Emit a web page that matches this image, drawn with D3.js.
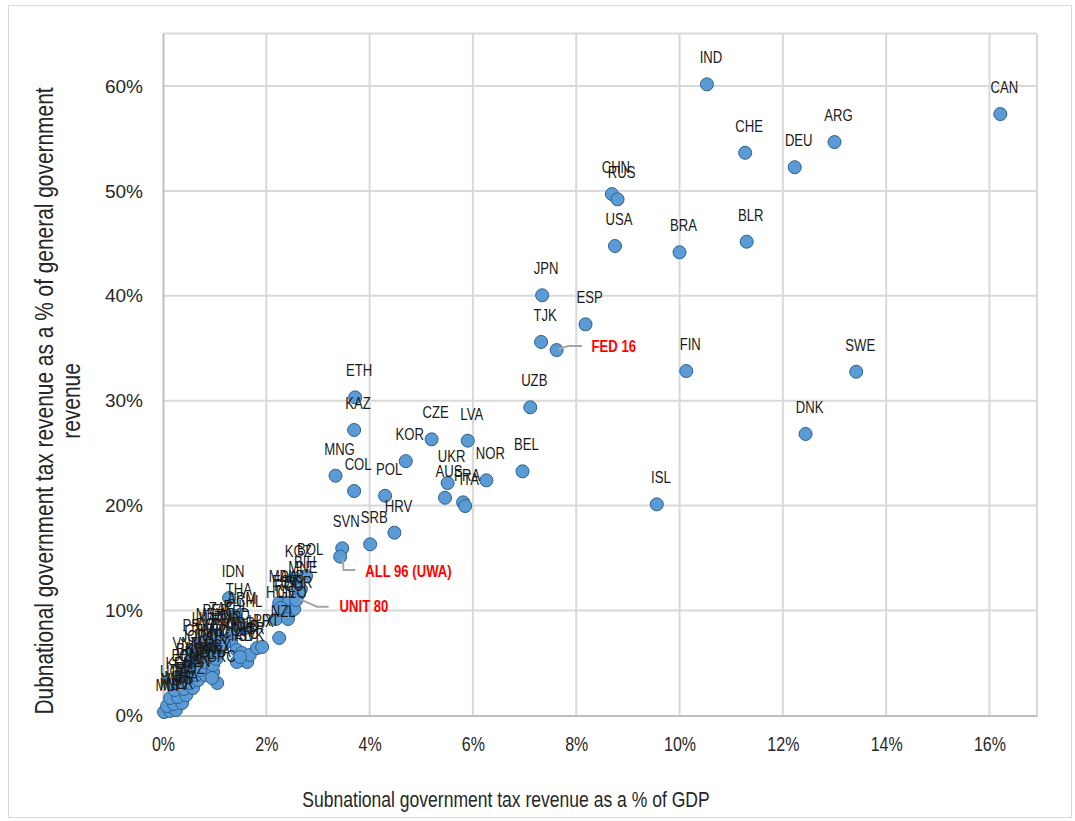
<!DOCTYPE html>
<html>
<head>
<meta charset="utf-8">
<script src="https://cdn.jsdelivr.net/npm/d3@7"></script>
<style>
  html, body { margin: 0; padding: 0; background: #ffffff; }
  svg { display: block; }
</style>
</head>
<body>
<svg id="chart" width="1075" height="821"></svg>
<script>
// ---- Data (values in percent) ----
const countryCodes = [
  "IND","CAN","CHE","ARG","DEU","CHN","RUS","USA","BRA","BLR",
  "JPN","ESP","TJK","FIN","SWE","DNK","ISL","UZB","BEL","ETH",
  "KAZ","CZE","LVA","KOR","NOR","MNG","COL","POL","UKR","AUS",
  "FRA","ITA","HRV","SRB","SVN",
  "KGZ","BOL","BIH","MNE","MDA","ALB","BGR","ROU","HUN","GEO","EST","NZL",
  "IDN","THA","CHL","MKD","GBR","NLD","LTU","SVK","ISR","LUX","PRT","IRL","CYP","GRC",
  "MLT","MDV","NER","MLI","MWI","BFA","UGA","TZA","MOZ","KEN",
  "GHA","SEN","BEN","CMR","NPL","BGD","KHM","PAK","VNM","TUN",
  "EGY","JOR","MAR","SLV","GTM","HND","NIC","PRY","DOM","CRI",
  "LKA","URY","ECU","MEX","PER","TUR","PHL","ZAF","ARM","BWA"
];
const taxGdp = [
  10.53,16.21,11.27,13.00,12.23,8.69,8.80,8.75,10.00,11.30,
  7.34,8.18,7.32,10.13,13.42,12.44,9.56,7.11,6.96,3.72,
  3.70,5.20,5.90,4.70,6.26,3.34,3.70,4.30,5.51,5.46,
  5.81,5.85,4.48,4.01,3.47,
  2.54,2.77,2.67,2.63,2.25,2.42,2.54,2.36,2.19,2.42,2.28,2.25,
  1.28,1.39,1.59,1.32,1.43,1.53,1.55,1.63,1.68,1.82,1.92,1.43,1.49,1.05,
  0.02,0.14,0.25,0.08,0.21,0.37,0.14,0.29,0.45,0.23,
  0.41,0.58,0.35,0.52,0.68,0.45,0.64,0.83,0.39,0.72,
  0.97,0.52,0.81,0.97,0.62,0.91,1.03,0.56,0.85,1.08,
  0.72,0.99,1.12,0.83,0.95,1.18,1.34,1.05,1.45,0.95
];
const taxShare = [
  60.16,57.33,53.64,54.66,52.26,49.70,49.20,44.75,44.15,45.16,
  40.05,37.28,35.60,32.83,32.76,26.83,20.12,29.37,23.27,30.32,
  27.21,26.32,26.19,24.24,22.41,22.85,21.39,20.94,22.15,20.75,
  20.31,19.96,17.42,16.31,15.93,
  13.09,13.29,12.05,11.57,10.72,10.72,10.14,9.86,9.19,9.19,10.24,7.38,
  11.19,9.48,8.33,7.10,6.24,5.95,5.28,5.09,5.76,6.42,6.52,5.09,5.57,3.09,
  0.32,0.42,0.51,0.90,1.09,1.18,1.66,1.75,1.94,2.42,
  2.52,2.61,3.18,3.09,3.37,3.76,3.85,3.85,4.33,4.33,
  4.14,5.00,5.09,4.80,5.57,5.57,5.38,6.04,6.14,6.04,
  6.71,6.62,6.62,7.10,7.47,6.81,7.86,7.66,8.61,3.57
];

// Group averages
const avgNames = ["FED 16", "ALL 96 (UWA)", "UNIT 80"];
const avgTaxGdp = [7.62, 3.43, 2.58];
const avgTaxShare = [34.83, 15.13, 11.00];

// Axis ticks
const xTicks = [0, 0.02, 0.04, 0.06, 0.08, 0.10, 0.12, 0.14, 0.16];
const yTicks = [0, 0.10, 0.20, 0.30, 0.40, 0.50, 0.60];
const xMax = 0.1692, yMax = 0.65;

const xTitle = "Subnational government tax revenue as a % of GDP";
const yTitleLines = ["Dubnational government tax revenue as a % of general government", "revenue"];

// ---- Drawing ----
const svg = d3.select("#chart");
const regular = "'Liberation Sans', Arial, sans-serif";
const NARROW = 0.82; // horizontal squeeze to imitate a narrow face

const x = d3.scaleLinear().domain([0, xMax]).range([163, 1037]);
const y = d3.scaleLinear().domain([0, yMax]).range([715.4, 33.6]);

// outer chart border
svg.append("rect").attr("x", 8.5).attr("y", 5.5).attr("width", 1063).attr("height", 812)
  .attr("fill", "#fff").attr("stroke", "#d9d9d9").attr("stroke-width", 1);

const grid = svg.append("g");
grid.selectAll("line.v").data(xTicks.slice(1)).join("line")
  .attr("x1", d => x(d)).attr("x2", d => x(d))
  .attr("y1", y(yMax)).attr("y2", y(0))
  .attr("stroke", "#d9d9d9").attr("stroke-width", 2);
grid.selectAll("line.h").data(yTicks.slice(1).concat([yMax])).join("line")
  .attr("x1", x(0)).attr("x2", x(xMax))
  .attr("y1", d => y(d)).attr("y2", d => y(d))
  .attr("stroke", "#d9d9d9").attr("stroke-width", 2);
grid.append("line").attr("x1", x(xMax)).attr("x2", x(xMax)).attr("y1", y(yMax)).attr("y2", y(0))
  .attr("stroke", "#d9d9d9").attr("stroke-width", 2);

// axes
const xAxis = d3.axisBottom(x).tickValues(xTicks).tickFormat(d3.format(".0%")).tickSize(0).tickPadding(22);
const gx = svg.append("g").attr("transform", `translate(0,${y(0)})`).call(xAxis);
gx.select(".domain").attr("stroke", "#bfbfbf").attr("stroke-width", 2);
gx.selectAll("text").attr("font-family", regular).attr("font-size", 19.5).attr("fill", "#262626")
  .attr("transform", `scale(${NARROW},1)`);

const yAxis = d3.axisLeft(y).tickValues(yTicks).tickFormat(d3.format(".0%")).tickSize(0).tickPadding(20);
const gy = svg.append("g").attr("transform", `translate(${x(0)},0)`).call(yAxis);
gy.select(".domain").attr("stroke", "#bfbfbf").attr("stroke-width", 2);
gy.selectAll("text").attr("font-family", regular).attr("font-size", 19).attr("fill", "#262626");

// axis titles
svg.append("text").attr("transform", `translate(506,807) scale(${NARROW},1)`).attr("text-anchor", "middle")
  .attr("font-family", regular).attr("font-size", 21.4).attr("fill", "#262626").text(xTitle);
const yt = svg.append("text").attr("transform", `translate(53,401) rotate(-90) scale(${NARROW},1)`)
  .attr("text-anchor", "middle").attr("font-family", regular).attr("font-size", 25.5).attr("fill", "#262626");
yt.selectAll("tspan").data(yTitleLines).join("tspan")
  .attr("x", 0).attr("dy", (d, i) => i === 0 ? 0 : 27).text(d => d);

// data
const pts = countryCodes.map((c, i) => ({ c, x: taxGdp[i] / 100, y: taxShare[i] / 100 }));
const avgs = avgNames.map((n, i) => ({ n, x: avgTaxGdp[i] / 100, y: avgTaxShare[i] / 100 }));

// leader lines for averages (relative offsets from the marker)
const leaderOffsets = [
  { path: [[1.6, -0.7], [11.6, -4], [25.6, -4]], tx: 35, ty: -3.3 },
  { path: [[2.7, 2.3], [3.3, 13.3], [15, 13.3]], tx: 25, ty: 15 },
  { path: [[4, -0.7], [20.7, 6.7], [32.3, 6.7]], tx: 43.3, ty: 6.7 }
];

const marks = svg.append("g");
marks.selectAll("circle.c").data(pts).join("circle")
  .attr("cx", d => x(d.x)).attr("cy", d => y(d.y)).attr("r", 6.5)
  .attr("fill", "#5b9bd5").attr("stroke", "#2c5f8f").attr("stroke-width", 1);
marks.selectAll("circle.a").data(avgs).join("circle")
  .attr("cx", d => x(d.x)).attr("cy", d => y(d.y)).attr("r", 6.5)
  .attr("fill", "#5b9bd5").attr("stroke", "#2c5f8f").attr("stroke-width", 1);

const line = d3.line();
svg.append("g").selectAll("path").data(avgs).join("path")
  .attr("d", (d, i) => line(leaderOffsets[i].path.map(p => [x(d.x) + p[0], y(d.y) + p[1]])))
  .attr("fill", "none").attr("stroke", "#a6a6a6").attr("stroke-width", 2);

// country labels
svg.append("g").selectAll("text").data(pts).join("text")
  .attr("transform", d => `translate(${x(d.x) + 4},${y(d.y) - 21}) scale(${NARROW},1)`)
  .attr("text-anchor", "middle").attr("font-family", regular).attr("font-size", 16)
  .attr("fill", "#1a1a1a").text(d => d.c);

// average labels
svg.append("g").selectAll("text").data(avgs).join("text")
  .attr("transform", (d, i) => `translate(${x(d.x) + leaderOffsets[i].tx},${y(d.y) + leaderOffsets[i].ty}) scale(${NARROW},1)`)
  .attr("dy", "0.35em")
  .attr("font-family", regular).attr("font-size", 16).attr("font-weight", "bold")
  .attr("fill", "#ff0000").text(d => d.n);
</script>
</body>
</html>
